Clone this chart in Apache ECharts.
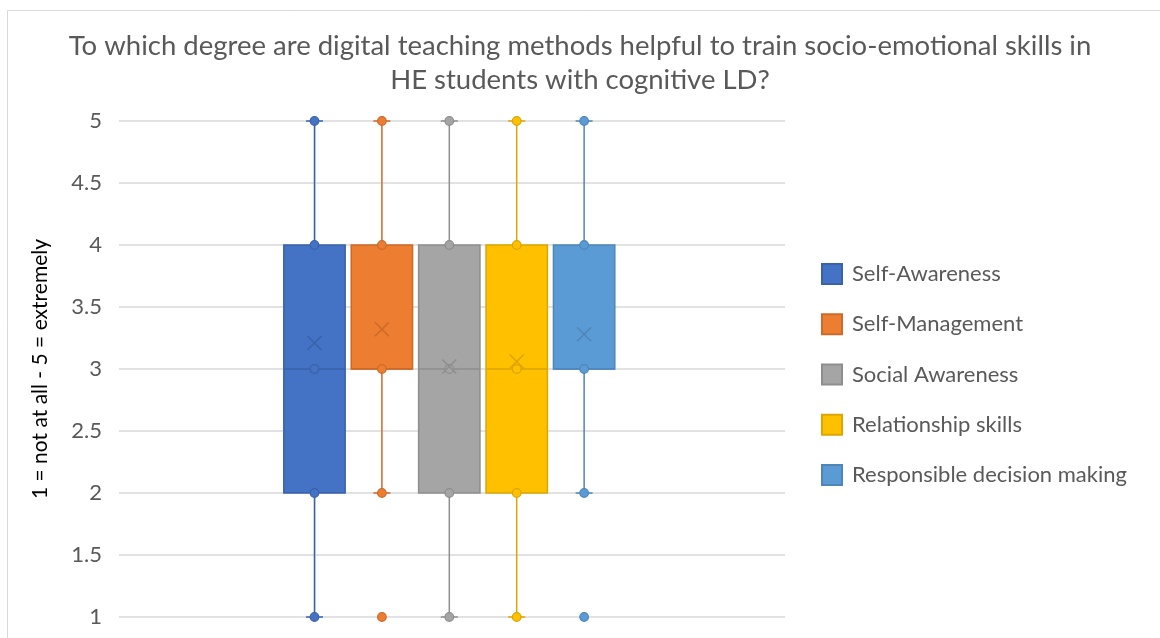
<!DOCTYPE html>
<html lang="en">

<head>
    <meta charset="utf-8">
    <title>Digital teaching methods - socio-emotional skills</title>
    <script src="https://cdn.jsdelivr.net/npm/echarts@6/dist/echarts.min.js"></script>
    <style>
        html, body { margin: 0; padding: 0; background: #fff; }
        #main { width: 1160px; height: 638px; }
    </style>
</head>

<body>
    <div id="main"></div>
    <script>
        // one box per skill
        var skills = ['Self-Awareness', 'Self-Management', 'Social Awareness', 'Relationship skills', 'Responsible decision making'];
        var whiskerLow = [1, 2, 1, 1, 2];
        var q1 = [2, 3, 2, 2, 3];
        var median = [3, 3, 3, 3, 3];
        var q3 = [4, 4, 4, 4, 4];
        var whiskerHigh = [5, 5, 5, 5, 5];
        var means = [3.21, 3.32, 3.02, 3.06, 3.28];
        var innerPoints = [[1, 2, 3, 4, 5], [2, 3, 4, 5], [1, 2, 3, 4, 5], [1, 2, 3, 4, 5], [2, 3, 4, 5]];
        var outliers = [[], [1], [], [], [1]];
        var yTicks = [1, 1.5, 2, 2.5, 3, 3.5, 4, 4.5, 5];

        var fills = ['#4472C4', '#ED7D31', '#A5A5A5', '#FFC000', '#5B9BD5'];
        var edges = ['#3A62AA', '#CC6A2A', '#8E8E8E', '#DBA600', '#4E86B8'];

        var textGrey = '#595959';
        var fontName = 'Lato, sans-serif';

        function renderBox(params, api) {
            var i = api.value(0);
            var fill = fills[i], edge = edges[i];
            var halfW = api.size([1, 0])[0] * 0.455;
            var capW = 8.5;
            var pLow = api.coord([i, api.value(1)]);
            var pQ1 = api.coord([i, api.value(2)]);
            var pMed = api.coord([i, api.value(3)]);
            var pQ3 = api.coord([i, api.value(4)]);
            var pHigh = api.coord([i, api.value(5)]);
            var pMean = api.coord([i, api.value(6)]);
            var cx = pMed[0];
            var kids = [];
            var line = { stroke: edge, lineWidth: 1.5 };

            // whiskers + caps
            kids.push({ type: 'line', shape: { x1: cx, y1: pHigh[1], x2: cx, y2: pQ3[1] }, style: line });
            kids.push({ type: 'line', shape: { x1: cx, y1: pLow[1], x2: cx, y2: pQ1[1] }, style: line });
            kids.push({ type: 'line', shape: { x1: cx - capW, y1: pHigh[1], x2: cx + capW, y2: pHigh[1] }, style: line });
            kids.push({ type: 'line', shape: { x1: cx - capW, y1: pLow[1], x2: cx + capW, y2: pLow[1] }, style: line });

            // box
            kids.push({
                type: 'rect',
                shape: { x: cx - halfW, y: pQ3[1], width: halfW * 2, height: pQ1[1] - pQ3[1] },
                style: { fill: fill, stroke: edge, lineWidth: 1.5 }
            });
            kids.push({ type: 'line', shape: { x1: cx - halfW, y1: pMed[1], x2: cx + halfW, y2: pMed[1] }, style: line });

            // inner points and outliers
            innerPoints[i].concat(outliers[i]).forEach(function (v) {
                var p = api.coord([i, v]);
                kids.push({
                    type: 'circle',
                    shape: { cx: cx, cy: p[1], r: 4.3 },
                    style: { fill: fill, stroke: edge, lineWidth: 1.2 }
                });
            });

            // mean marker (x)
            var m = 7;
            kids.push({ type: 'line', shape: { x1: cx - m, y1: pMean[1] - m, x2: cx + m, y2: pMean[1] + m }, style: line });
            kids.push({ type: 'line', shape: { x1: cx - m, y1: pMean[1] + m, x2: cx + m, y2: pMean[1] - m }, style: line });

            return { type: 'group', children: kids };
        }

        var series = skills.map(function (name, i) {
            return {
                name: name,
                type: 'custom',
                renderItem: renderBox,
                itemStyle: { color: fills[i], borderColor: edges[i], borderWidth: 1 },
                encode: { x: 0, y: [1, 2, 3, 4, 5, 6] },
                data: [[i, whiskerLow[i], q1[i], median[i], q3[i], whiskerHigh[i], means[i]]]
            };
        });

        var myChart = echarts.init(document.getElementById('main'));
        myChart.setOption({
            animation: false,
            color: fills,
            title: {
                text: 'To which degree are digital teaching methods helpful to train socio-emotional skills in\nHE students with cognitive LD?',
                left: 'center',
                top: 24,
                textStyle: {
                    fontFamily: fontName,
                    fontWeight: 'normal',
                    fontSize: 27.5,
                    color: textGrey,
                    lineHeight: 34
                }
            },
            graphic: [{
                type: 'rect',
                shape: { x: 7.5, y: 10.5, width: 1200, height: 700 },
                style: { fill: 'none', stroke: '#d9d9d9', lineWidth: 1 },
                silent: true
            }],
            legend: {
                orient: 'vertical',
                left: 821,
                top: 263,
                padding: 0,
                icon: 'rect',
                itemWidth: 20,
                itemHeight: 20,
                itemGap: 28.25,
                textStyle: {
                    fontFamily: fontName,
                    fontSize: 22,
                    color: textGrey,
                    padding: [0, 0, 0, 5]
                },
                data: skills
            },
            grid: {
                left: 119,
                right: 1160 - 785,
                top: 121,
                bottom: 638 - 617
            },
            xAxis: {
                type: 'value',
                min: -2.9,
                max: 6.98,
                show: false
            },
            yAxis: {
                type: 'value',
                min: yTicks[0],
                max: yTicks[yTicks.length - 1],
                interval: 0.5,
                name: '1 = not at all - 5 = extremely',
                nameLocation: 'middle',
                nameGap: 68,
                nameTextStyle: {
                    fontFamily: fontName,
                    fontSize: 21,
                    color: '#000'
                },
                axisLine: { show: true, lineStyle: { color: '#d9d9d9', width: 1.5 } },
                axisTick: { show: false },
                axisLabel: {
                    margin: 17,
                    fontFamily: fontName,
                    fontSize: 22,
                    color: textGrey
                },
                splitLine: { lineStyle: { color: '#d9d9d9', width: 1.5 } }
            },
            series: series
        });
        window.onresize = myChart.resize;
    </script>
</body>

</html>
